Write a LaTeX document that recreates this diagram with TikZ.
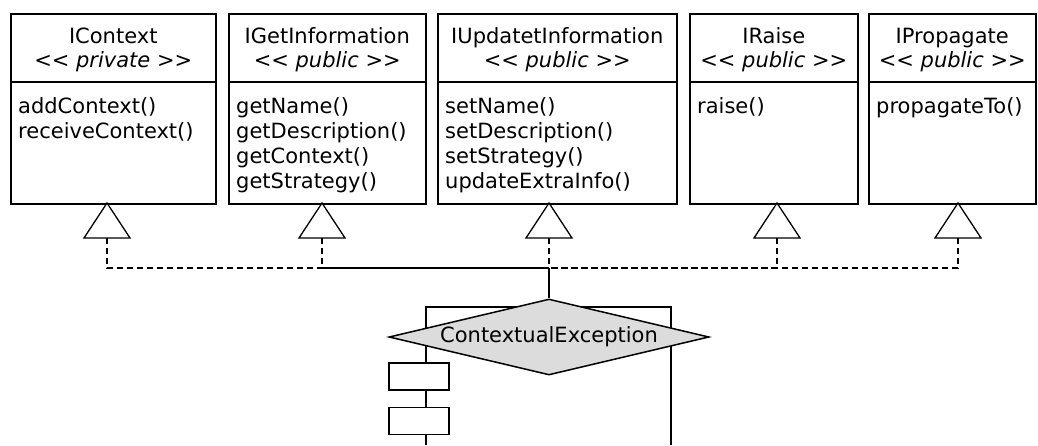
\documentclass[tikz,border=0pt]{standalone}
\usepackage{fontspec}
\setmainfont{DejaVu Sans}
\usetikzlibrary{shapes.geometric, positioning, calc}

\definecolor{decisiongray}{RGB}{220,220,220}

\begin{document}
\begin{tikzpicture}[
    x=1pt, y=-1pt,
    font=\fontsize{21}{25}\selectfont,
    iface/.style={
      draw,
      line width=1.5pt,
      anchor=north west,
      inner sep=0pt
    },
    ifacetitle/.style={
      anchor=base,
      inner sep=0pt
    },
    ops/.style={
      anchor=north west,
      align=left,
      inner sep=0pt
    },
    realize/.style={
      draw,
      line width=1.3pt,
      fill=white
    },
    dep/.style={
      draw,
      line width=1.3pt,
      dash pattern=on 6pt off 4pt
    },
    link/.style={
      draw,
      line width=1.5pt
    },
    decision/.style={
      diamond,
      draw,
      line width=1.5pt,
      fill=decisiongray,
      aspect=4.2,
      minimum width=320pt,
      minimum height=76pt,
      inner sep=0pt
    },
    action/.style={
      draw,
      line width=1.5pt,
      fill=white,
      minimum width=60pt,
      minimum height=27pt,
      inner sep=0pt
    }
  ]

    \useasboundingbox (0,0) rectangle (1038,445);

    % Interface boxes
    \node[iface, minimum width=205pt, minimum height=190pt] (ctx) at (10,13) {};
    \node[iface, minimum width=197pt, minimum height=190pt] (getinfo) at (228,13) {};
    \node[iface, minimum width=239pt, minimum height=190pt] (update) at (437,13) {};
    \node[iface, minimum width=168pt, minimum height=190pt] (raise) at (689,13) {};
    \node[iface, minimum width=167pt, minimum height=190pt] (propagate) at (868,13) {};

    % Header / operations dividers
    \coordinate (divy) at (0,82);
    \draw[link] (ctx.west |- divy) -- (ctx.east |- divy);
    \draw[link] (getinfo.west |- divy) -- (getinfo.east |- divy);
    \draw[link] (update.west |- divy) -- (update.east |- divy);
    \draw[link] (raise.west |- divy) -- (raise.east |- divy);
    \draw[link] (propagate.west |- divy) -- (propagate.east |- divy);

    % Names and stereotypes
    \node[ifacetitle] at ($(ctx.north)+(0,30)$) {IContext};
    \node[ifacetitle] at ($(ctx.north)+(0,54)$) {<{}< \textit{private} >{}>};
    \node[ifacetitle] at ($(getinfo.north)+(0,30)$) {IGetInformation};
    \node[ifacetitle] at ($(getinfo.north)+(0,54)$) {<{}< \textit{public} >{}>};
    \node[ifacetitle] at ($(update.north)+(0,30)$) {IUpdatetInformation};
    \node[ifacetitle] at ($(update.north)+(0,54)$) {<{}< \textit{public} >{}>};
    \node[ifacetitle] at ($(raise.north)+(0,30)$) {IRaise};
    \node[ifacetitle] at ($(raise.north)+(0,54)$) {<{}< \textit{public} >{}>};
    \node[ifacetitle] at ($(propagate.north)+(0,30)$) {IPropagate};
    \node[ifacetitle] at ($(propagate.north)+(0,54)$) {<{}< \textit{public} >{}>};

    % Operations
    \node[ops] (ctx-ops) at ($(ctx.north west)+(8,84)$) {addContext()\\receiveContext()};
    \node[ops] (getinfo-ops) at ($(getinfo.north west)+(8,84)$) {getName()\\getDescription()\\getContext()\\getStrategy()};
    \node[ops] (update-ops) at ($(update.north west)+(8,84)$) {setName()\\setDescription()\\setStrategy()\\updateExtraInfo()};
    \node[ops] (raise-ops) at ($(raise.north west)+(8,84)$) {raise()};
    \node[ops] (propagate-ops) at ($(propagate.north west)+(8,84)$) {propagateTo()};

    % Realization triangles
    \coordinate (ctx-tip) at (107,203);
    \coordinate (getinfo-tip) at (322,203);
    \coordinate (update-tip) at (549,203);
    \coordinate (raise-tip) at (777,203);
    \coordinate (propagate-tip) at (958,203);
    \draw[realize] (ctx-tip) -- ++(23,35) -- ++(-46,0) -- cycle;
    \draw[realize] (getinfo-tip) -- ++(23,35) -- ++(-46,0) -- cycle;
    \draw[realize] (update-tip) -- ++(23,35) -- ++(-46,0) -- cycle;
    \draw[realize] (raise-tip) -- ++(23,35) -- ++(-46,0) -- cycle;
    \draw[realize] (propagate-tip) -- ++(23,35) -- ++(-46,0) -- cycle;

    % Dashed realization lines into the hub
    \coordinate (hub) at (549,268);
    \draw[dep] ($(ctx-tip)+(0,35)$) |- (hub);
    \draw[dep] ($(getinfo-tip)+(0,35)$) |- (hub);
    \draw[dep] ($(update-tip)+(0,35)$) -- (hub);
    \draw[dep] ($(raise-tip)+(0,35)$) |- (hub);
    \draw[dep] ($(propagate-tip)+(0,35)$) |- (hub);

    % Exception node and its frame
    \draw[link] (426,445) |- (671,307) -- (671,445);
    \node[decision] (exc) at (549,337) {ContextualException};
    \draw[link] (hub) -- (exc.north);

    \node[action] (act1) at (419,376.5) {};
    \node[action] (act2) at (419,421) {};

  \end{tikzpicture}
\end{document}
